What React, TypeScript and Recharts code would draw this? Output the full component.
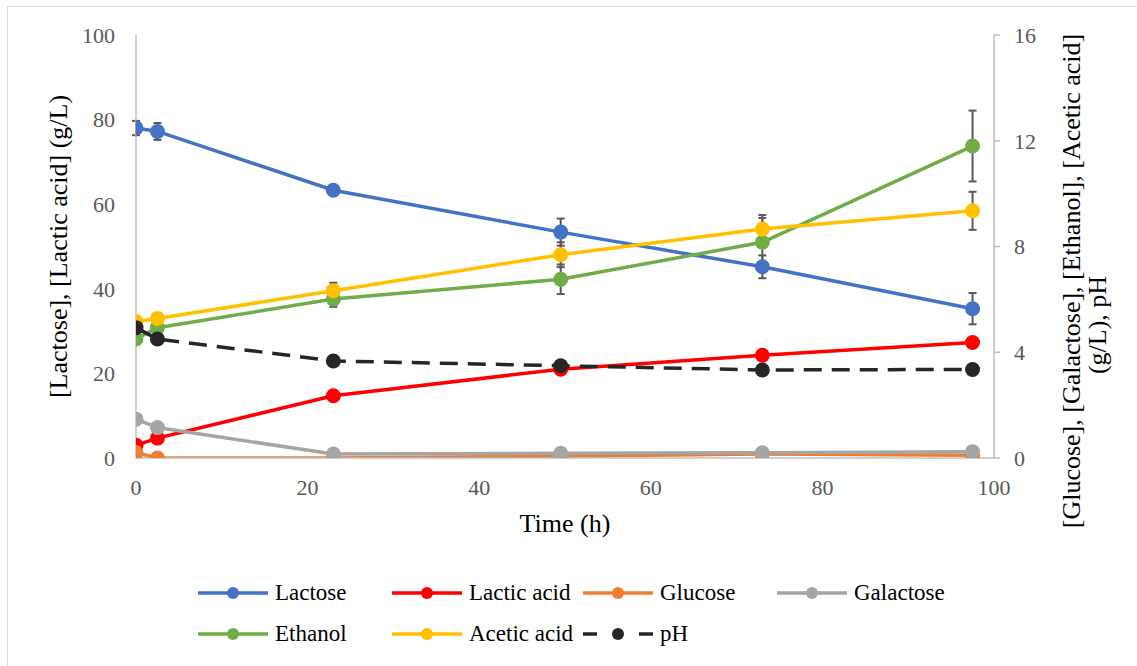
import React from 'react';
import { ComposedChart, Line, XAxis, YAxis, ErrorBar, Legend } from 'recharts';

// ---- Data ----
const timeH = [0, 2.5, 23, 49.5, 73, 97.5];
const lactose = [78.0, 77.2, 63.3, 53.4, 45.2, 35.3];
const lactoseErr = [1.7, 2.0, null, 3.2, 2.7, 3.7];
const lacticAcid = [3.0, 4.7, 14.7, 21.0, 24.3, 27.3];
const glucose = [0.2, 0.0, 0.0, 0.07, 0.15, 0.1];
const galactose = [1.47, 1.15, 0.15, 0.18, 0.2, 0.24];
const ethanol = [4.5, 4.93, 6.01, 6.76, 8.16, 11.8];
const ethanolErr = [null, null, 0.29, 0.56, 1.03, 1.34];
const aceticAcid = [5.16, 5.28, 6.33, 7.69, 8.66, 9.35];
const aceticErr = [null, null, 0.3, 0.47, 0.42, 0.72];
const pH = [4.93, 4.5, 3.67, 3.49, 3.33, 3.35];

const xTicks = [0, 20, 40, 60, 80, 100];
const leftTicks = [0, 20, 40, 60, 80, 100];
const rightTicks = [0, 4, 8, 12, 16];

const xTitle = 'Time (h)';
const leftTitle = '[Lactose], [Lactic acid] (g/L)';
const rightTitleLine1 = '[Glucose], [Galactose], [Ethanol], [Acetic acid]';
const rightTitleLine2 = '(g/L), pH';

type Series = {
  key: string;
  name: string;
  values: number[];
  err?: (number | null)[];
  color: string;
  axis: 'left' | 'right';
  dashed?: boolean;
};

const series: Series[] = [
  { key: 'lactose', name: 'Lactose', values: lactose, err: lactoseErr, color: '#4472C4', axis: 'left' },
  { key: 'lactic', name: 'Lactic acid', values: lacticAcid, color: '#FF0000', axis: 'left' },
  { key: 'glucose', name: 'Glucose', values: glucose, color: '#ED7D31', axis: 'right' },
  { key: 'galactose', name: 'Galactose', values: galactose, color: '#A5A5A5', axis: 'right' },
  { key: 'ethanol', name: 'Ethanol', values: ethanol, err: ethanolErr, color: '#70AD47', axis: 'right' },
  { key: 'acetic', name: 'Acetic acid', values: aceticAcid, err: aceticErr, color: '#FFC000', axis: 'right' },
  { key: 'ph', name: 'pH', values: pH, color: '#262626', axis: 'right', dashed: true },
];

const data = timeH.map((t, i) => {
  const row: Record<string, number | null> = { time: t };
  series.forEach((s) => {
    row[s.key] = s.values[i];
    if (s.err) row[s.key + 'Err'] = s.err[i];
  });
  return row;
});

const FONT = "'Liberation Serif', 'Times New Roman', serif";
const AXIS_GRAY = '#BFBFBF';
const TICK_COLOR = '#595959';

const legendCols = [198, 392, 583, 777];
const legendRows = [23, 64];

const renderLegend = () => (
  <div style={{ position: 'relative', width: 1137, height: 90, fontFamily: FONT }}>
    {series.map((s, i) => {
      const col = i < 4 ? i : i - 4;
      const row = i < 4 ? 0 : 1;
      return (
        <div
          key={s.key}
          style={{
            position: 'absolute',
            left: legendCols[col],
            top: legendRows[row] - 15,
            height: 30,
            display: 'flex',
            alignItems: 'center',
            whiteSpace: 'nowrap',
          }}
        >
          <svg width={70} height={16} style={{ display: 'block' }}>
            {s.dashed ? (
              <>
                <line x1={0} y1={8} x2={14} y2={8} stroke={s.color} strokeWidth={3.5} />
                <line x1={56} y1={8} x2={70} y2={8} stroke={s.color} strokeWidth={3.5} />
              </>
            ) : (
              <line x1={0} y1={8} x2={70} y2={8} stroke={s.color} strokeWidth={3.5} />
            )}
            <circle cx={35} cy={8} r={6} fill={s.color} />
          </svg>
          <span style={{ marginLeft: 7, fontSize: 23, color: '#000', lineHeight: '30px' }}>{s.name}</span>
        </div>
      );
    })}
  </div>
);

const LeftTitle = (props: any) => {
  const vb = props.viewBox || {};
  const cx = 58;
  const cy = (vb.y ?? 35) + (vb.height ?? 423) / 2;
  return (
    <text
      x={cx}
      y={cy}
      transform={`rotate(-90, ${cx}, ${cy})`}
      textAnchor="middle"
      dominantBaseline="central"
      fontFamily={FONT}
      fontSize={26}
      fill="#000"
    >
      {leftTitle}
    </text>
  );
};

const RightTitle = () => {
  const x1 = 1071;
  const y1 = 281;
  const x2 = 1097;
  const y2 = 325;
  return (
    <g>
      <text
        x={x1}
        y={y1}
        transform={`rotate(-90, ${x1}, ${y1})`}
        textAnchor="middle"
        dominantBaseline="central"
        fontFamily={FONT}
        fontSize={26}
        fill="#000"
      >
        {rightTitleLine1}
      </text>
      <text
        x={x2}
        y={y2}
        transform={`rotate(-90, ${x2}, ${y2})`}
        textAnchor="middle"
        dominantBaseline="central"
        fontFamily={FONT}
        fontSize={26}
        fill="#000"
      >
        {rightTitleLine2}
      </text>
    </g>
  );
};

const XTitle = (props: any) => {
  const vb = props.viewBox || {};
  const cx = (vb.x ?? 136) + (vb.width ?? 858) / 2;
  const cy = 523;
  return (
    <text x={cx} y={cy} textAnchor="middle" dominantBaseline="central" fontFamily={FONT} fontSize={26} fill="#000">
      {xTitle}
    </text>
  );
};

export default function App() {
  const tickStyle = { fontFamily: FONT, fontSize: 22, fill: TICK_COLOR };
  return (
    <div
      style={{
        position: 'absolute',
        left: 0,
        top: 0,
        width: 1137,
        height: 666,
        overflow: 'hidden',
        background: '#fff',
      }}
    >
      <div
        style={{
          position: 'absolute',
          left: 7,
          top: 6,
          width: 1160,
          height: 700,
          border: '1px solid #D9D9D9',
        }}
      />
      <div style={{ position: 'absolute', left: 0, top: 0 }}>
        <ComposedChart
          width={1137}
          height={666}
          data={data}
          margin={{ top: 35, left: 20, right: 53, bottom: 148 }}
        >
          <XAxis
            dataKey="time"
            type="number"
            domain={[0, 100]}
            ticks={xTicks}
            allowDataOverflow
            tickLine={false}
            tickSize={0}
            tickMargin={21}
            height={60}
            stroke={AXIS_GRAY}
            strokeWidth={1.5}
            tick={tickStyle}
            label={<XTitle />}
          />
          <YAxis
            yAxisId="left"
            orientation="left"
            domain={[0, 100]}
            ticks={leftTicks}
            allowDataOverflow
            width={116}
            tickLine={false}
            tickSize={0}
            tickMargin={21}
            stroke={AXIS_GRAY}
            strokeWidth={1.5}
            tick={tickStyle}
            label={<LeftTitle />}
          />
          <YAxis
            yAxisId="right"
            orientation="right"
            domain={[0, 16]}
            ticks={rightTicks}
            allowDataOverflow
            width={90}
            tickLine={{ stroke: AXIS_GRAY, strokeWidth: 1.5 }}
            tickSize={6}
            tickMargin={14}
            stroke={AXIS_GRAY}
            strokeWidth={1.5}
            tick={tickStyle}
            label={<RightTitle />}
          />
          <Legend
            layout="horizontal"
            verticalAlign="middle"
            align="center"
            wrapperStyle={{ left: 0, top: 570, width: 1137, height: 90 }}
            content={renderLegend}
          />
          {series.map((s) => (
            <Line
              key={s.key}
              yAxisId={s.axis}
              dataKey={s.key}
              name={s.name}
              type="linear"
              stroke={s.color}
              strokeWidth={3.5}
              strokeDasharray={s.dashed ? '18 10' : undefined}
              dot={{ r: 7.5, fill: s.color, stroke: s.color, strokeWidth: 0, strokeDasharray: '' }}
              activeDot={false}
              isAnimationActive={false}
            >
              {s.err ? (
                <ErrorBar dataKey={s.key + 'Err'} direction="y" width={4} strokeWidth={2} stroke="#595959" />
              ) : null}
            </Line>
          ))}
        </ComposedChart>
      </div>
    </div>
  );
}
